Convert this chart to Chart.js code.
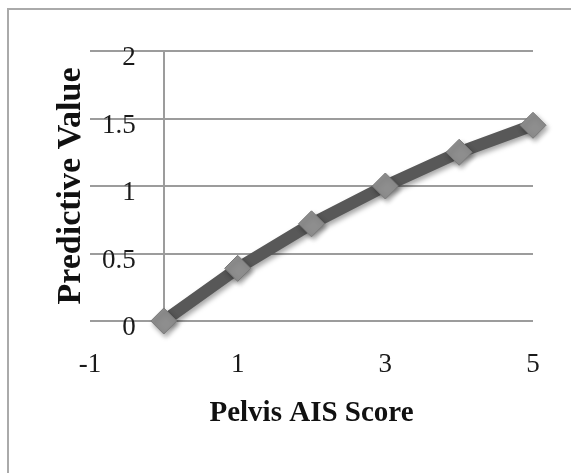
<!DOCTYPE html>
<html lang="en">
<head>
<meta charset="UTF-8">
<title>Pelvis AIS Score</title>
<style>
  body { margin: 0; background: #fff; overflow: hidden; }
  .wrap { position: relative; width: 571px; height: 473px; }
  .frame { position: absolute; left: 7px; top: 8px; width: 620px; height: 520px; border: 2px solid #aaa; }
  canvas { position: absolute; left: 0; top: 0; }
</style>
</head>
<body>
<div class="wrap">
  <div class="frame"></div>
  <canvas id="aisChart" width="571" height="473"></canvas>
</div>
<script src="https://cdn.jsdelivr.net/npm/chart.js"></script>
<script>
// pelvis AIS score vs predictive value
const aisScores = [0, 1, 2, 3, 4, 5];
const predictiveValues = [0, 0.39, 0.72, 1.0, 1.25, 1.45];
// x ticks: 0 only carries the vertical axis line, no label
const xTicks = [-1, 0, 1, 3, 5];
const yTicks = [0, 0.5, 1, 1.5, 2];

const gridColor = '#9c9c9c';
const serif = '"Liberation Serif", "DejaVu Serif", serif';

// soft drop shadow under the line and diamonds
const markerShadow = {
  id: 'markerShadow',
  beforeDatasetDraw(chart) {
    const c = chart.ctx;
    c.save();
    c.shadowColor = 'rgba(0,0,0,0.35)';
    c.shadowBlur = 5;
    c.shadowOffsetX = 2;
    c.shadowOffsetY = 3;
  },
  afterDatasetDraw(chart) {
    chart.ctx.restore();
  }
};

new Chart(document.getElementById('aisChart'), {
  type: 'line',
  data: {
    datasets: [{
      data: aisScores.map((x, i) => ({ x: x, y: predictiveValues[i] })),
      borderColor: '#585858',
      borderWidth: 12,
      pointStyle: 'rectRot',
      pointRadius: 13,
      pointBackgroundColor: '#8e8e8e',
      pointBorderColor: '#7a7a7a',
      pointBorderWidth: 1,
      tension: 0,
      clip: false
    }]
  },
  options: {
    responsive: false,
    devicePixelRatio: 1,
    animation: false,
    events: [],
    layout: { padding: { top: 51, right: 38, bottom: 40, left: 0 } },
    plugins: { legend: { display: false }, tooltip: { enabled: false } },
    scales: {
      x: {
        type: 'linear',
        min: -1,
        max: 5,
        afterBuildTicks: s => { s.ticks = xTicks.map(v => ({ value: v })); },
        afterFit: s => { s.height = 112; },
        grid: {
          color: c => (c.tick && c.tick.value === 0 ? gridColor : 'rgba(0,0,0,0)'),
          lineWidth: 2,
          drawTicks: false
        },
        border: { display: false },
        ticks: {
          autoSkip: false,
          maxRotation: 0,
          padding: 28,
          color: '#1a1a1a',
          font: { family: serif, size: 27 },
          callback: v => (v === 0 ? '' : String(v))
        },
        title: {
          display: true,
          text: 'Pelvis AIS Score',
          color: '#111',
          font: { family: serif, size: 29, weight: 'bold' },
          padding: { top: 0, bottom: 2 }
        }
      },
      y: {
        type: 'linear',
        min: 0,
        max: 2,
        afterBuildTicks: s => { s.ticks = yTicks.map(v => ({ value: v })); },
        afterFit: s => { s.width = 90; },
        grid: { color: gridColor, lineWidth: 2, drawTicks: false },
        border: { display: false },
        ticks: {
          // labels sit inside the plot, right-aligned just left of x = 0
          mirror: true,
          crossAlign: 'far',
          padding: 12,
          labelOffset: 7,
          color: '#1a1a1a',
          font: { family: serif, size: 27 },
          callback: v => String(v)
        },
        title: {
          display: true,
          text: 'Predictive Value',
          color: '#111',
          font: { family: serif, size: 34, weight: 'bold' },
          padding: { top: 51, bottom: 0 }
        }
      }
    }
  },
  plugins: [markerShadow]
});
</script>
</body>
</html>
